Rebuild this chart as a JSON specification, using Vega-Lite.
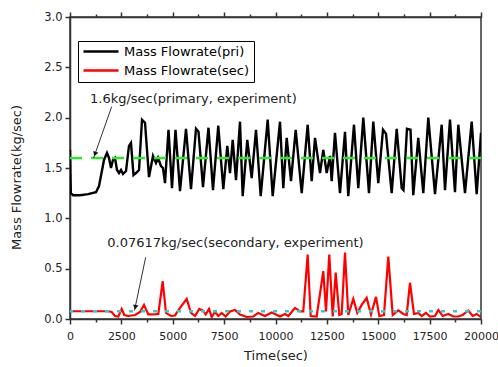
{
"$schema": "https://vega.github.io/schema/vega-lite/v6.json",
"width": 411,
"height": 302,
"autosize": {"type": "none"},
"padding": {"left": 70, "top": 17, "right": 17, "bottom": 48},
"config": {"view": {"stroke": "#333", "strokeWidth": 1.5}, "font": "DejaVu Sans"},
"datasets": {
"pri": [
{"t":0,"v":1.68},{"t":40,"v":1.25},{"t":150,"v":1.23},{"t":490,"v":1.23},{"t":880,"v":1.24},{"t":1265,"v":1.26},{"t":1411,"v":1.32},{"t":1655,"v":1.58},{"t":1800,"v":1.65},{"t":1898,"v":1.60},{"t":1995,"v":1.50},{"t":2092,"v":1.58},{"t":2190,"v":1.60},{"t":2287,"v":1.48},{"t":2384,"v":1.45},{"t":2482,"v":1.48},{"t":2579,"v":1.44},{"t":2725,"v":1.47},{"t":2871,"v":1.72},{"t":2968,"v":1.75},{"t":3090,"v":1.43},{"t":3212,"v":1.45},{"t":3358,"v":1.48},{"t":3504,"v":1.98},{"t":3650,"v":1.95},{"t":3844,"v":1.41},{"t":4039,"v":1.62},{"t":4185,"v":1.55},{"t":4282,"v":1.60},{"t":4428,"v":1.52},{"t":4525,"v":1.50},{"t":4623,"v":1.35},{"t":4793,"v":1.88},{"t":4963,"v":1.30},{"t":5134,"v":1.88},{"t":5353,"v":1.27},{"t":5645,"v":1.89},{"t":5888,"v":1.29},{"t":6131,"v":1.89},{"t":6253,"v":1.86},{"t":6472,"v":1.31},{"t":6739,"v":1.90},{"t":6958,"v":1.28},{"t":7216,"v":1.92},{"t":7460,"v":1.29},{"t":7654,"v":1.72},{"t":7786,"v":1.45},{"t":7917,"v":1.78},{"t":8078,"v":1.38},{"t":8272,"v":1.96},{"t":8403,"v":1.22},{"t":8627,"v":1.78},{"t":8841,"v":1.40},{"t":9051,"v":1.88},{"t":9280,"v":1.22},{"t":9620,"v":1.98},{"t":9863,"v":1.22},{"t":10219,"v":1.96},{"t":10379,"v":1.30},{"t":10545,"v":1.80},{"t":10754,"v":1.37},{"t":10983,"v":1.88},{"t":11275,"v":1.25},{"t":11566,"v":1.93},{"t":11761,"v":1.37},{"t":11922,"v":1.80},{"t":12165,"v":1.45},{"t":12326,"v":1.68},{"t":12491,"v":1.45},{"t":12652,"v":1.62},{"t":12734,"v":1.37},{"t":12895,"v":1.85},{"t":13138,"v":1.25},{"t":13382,"v":1.86},{"t":13542,"v":1.22},{"t":13819,"v":1.93},{"t":14029,"v":1.30},{"t":14272,"v":2.00},{"t":14549,"v":1.25},{"t":14759,"v":1.96},{"t":15002,"v":1.35},{"t":15231,"v":1.88},{"t":15377,"v":1.84},{"t":15654,"v":1.25},{"t":15898,"v":1.89},{"t":16141,"v":1.30},{"t":16228,"v":1.28},{"t":16398,"v":1.89},{"t":16569,"v":1.88},{"t":16705,"v":1.23},{"t":16948,"v":1.80},{"t":17192,"v":1.25},{"t":17435,"v":2.00},{"t":17761,"v":1.24},{"t":18087,"v":1.93},{"t":18248,"v":1.28},{"t":18491,"v":1.98},{"t":18734,"v":1.26},{"t":18895,"v":1.93},{"t":19221,"v":1.25},{"t":19547,"v":1.96},{"t":19790,"v":1.24},{"t":20000,"v":1.85}
],
"sec": [
{"t":0,"v":0.077},{"t":1849,"v":0.077},{"t":2029,"v":0.07},{"t":2190,"v":0.03},{"t":2350,"v":0.025},{"t":2516,"v":0.10},{"t":2642,"v":0.04},{"t":2837,"v":0.03},{"t":3163,"v":0.04},{"t":3406,"v":0.07},{"t":3601,"v":0.14},{"t":3810,"v":0.045},{"t":4053,"v":0.045},{"t":4297,"v":0.05},{"t":4511,"v":0.375},{"t":4671,"v":0.06},{"t":4915,"v":0.03},{"t":5109,"v":0.035},{"t":5353,"v":0.11},{"t":5679,"v":0.20},{"t":5888,"v":0.06},{"t":6083,"v":0.03},{"t":6292,"v":0.10},{"t":6486,"v":0.08},{"t":6603,"v":0.045},{"t":6764,"v":0.10},{"t":6895,"v":0.02},{"t":7056,"v":0.07},{"t":7216,"v":0.03},{"t":7382,"v":0.06},{"t":7576,"v":0.025},{"t":7786,"v":0.075},{"t":8029,"v":0.09},{"t":8272,"v":0.045},{"t":8598,"v":0.02},{"t":8919,"v":0.025},{"t":9163,"v":0.06},{"t":9489,"v":0.03},{"t":9815,"v":0.065},{"t":9975,"v":0.05},{"t":10219,"v":0.025},{"t":10462,"v":0.05},{"t":10622,"v":0.03},{"t":10949,"v":0.11},{"t":11192,"v":0.075},{"t":11352,"v":0.075},{"t":11566,"v":0.64},{"t":11712,"v":0.03},{"t":12004,"v":0.025},{"t":12326,"v":0.475},{"t":12457,"v":0.075},{"t":12617,"v":0.64},{"t":12783,"v":0.025},{"t":12929,"v":0.46},{"t":13104,"v":0.04},{"t":13221,"v":0.05},{"t":13382,"v":0.66},{"t":13542,"v":0.04},{"t":13785,"v":0.20},{"t":13980,"v":0.06},{"t":14194,"v":0.14},{"t":14437,"v":0.21},{"t":14647,"v":0.045},{"t":14890,"v":0.22},{"t":15051,"v":0.03},{"t":15279,"v":0.04},{"t":15489,"v":0.62},{"t":15703,"v":0.04},{"t":15975,"v":0.085},{"t":16219,"v":0.05},{"t":16384,"v":0.04},{"t":16544,"v":0.36},{"t":16739,"v":0.05},{"t":16948,"v":0.06},{"t":17114,"v":0.03},{"t":17324,"v":0.06},{"t":17518,"v":0.025},{"t":17761,"v":0.03},{"t":17922,"v":0.09},{"t":18136,"v":0.03},{"t":18408,"v":0.05},{"t":18651,"v":0.025},{"t":18895,"v":0.025},{"t":19109,"v":0.04},{"t":19381,"v":0.085},{"t":19596,"v":0.03},{"t":19790,"v":0.05},{"t":20000,"v":0.02}
],
"notes": [
{"t":973,"v":2.19,"label":"1.6kg/sec(primary, experiment)"},
{"t":1815,"v":0.756,"label":"0.07617kg/sec(secondary, experiment)"}
],
"arrows": [
{"t":2029,"v":2.11,"t2":1150,"v2":1.60},
{"t":3683,"v":0.613,"t2":3139,"v2":0.084}
]
},
"resolve": {"axis": {"x": "independent"}},
"layer": [
{
"data": {"name": "pri"},
"mark": {"type": "line", "strokeWidth": 2.4, "clip": true},
"encoding": {
"x": {"field": "t", "type": "quantitative",
"scale": {"domain": [0, 20000], "nice": false, "zero": false},
"axis": {"orient": "bottom", "values": [0,1250,2500,3750,5000,6250,7500,8750,10000,11250,12500,13750,15000,16250,17500,18750,20000],
"format": "d", "labelExpr": "datum.value % 2500 === 0 ? datum.label : ''",
"title": "Time(sec)", "grid": false, "domainColor": "#333", "domainWidth": 1.5,
"tickColor": "#333", "tickWidth": 1.5,
"tickSize": {"condition": {"test": "datum.value % 2500 === 0", "value": 5}, "value": 3},
"labelFont": "DejaVu Sans", "labelFontSize": 11, "labelColor": "#222", "labelPadding": 6,
"labelFlush": false, "labelOverlap": false,
"titleFont": "DejaVu Sans", "titleFontSize": 13, "titleFontWeight": "normal", "titleColor": "#222", "titlePadding": 8}},
"y": {"field": "v", "type": "quantitative",
"scale": {"domain": [0, 3], "nice": false},
"axis": {"orient": "left", "values": [0,0.25,0.5,0.75,1,1.25,1.5,1.75,2,2.25,2.5,2.75,3],
"format": ".1f", "labelExpr": "round(datum.value*4) % 2 === 0 ? datum.label : ''",
"title": "Mass Flowrate(kg/sec)", "grid": false, "domainColor": "#333", "domainWidth": 1.5,
"tickColor": "#333", "tickWidth": 1.5,
"tickSize": {"condition": {"test": "round(datum.value*4) % 2 === 0", "value": 5}, "value": 3},
"labelFont": "DejaVu Sans", "labelFontSize": 11.5, "labelColor": "#222", "labelPadding": 3,
"labelFlush": false, "labelOverlap": false,
"titleFont": "DejaVu Sans", "titleFontSize": 13, "titleFontWeight": "normal", "titleColor": "#222", "titlePadding": 20, "titleY": 160}},
"color": {"datum": "Mass Flowrate(pri)", "type": "nominal",
"scale": {"domain": ["Mass Flowrate(pri)", "Mass Flowrate(sec)"], "range": ["#000000", "#ff0000"]},
"legend": {"orient": "none", "legendX": 8, "legendY": 24, "title": null,
"symbolType": "M-1,0H6", "symbolSize": 100, "symbolStrokeWidth": 2.5,
"labelFont": "DejaVu Sans", "labelFontSize": 13, "labelColor": "#000", "labelOffset": 29,
"rowPadding": 5, "padding": 4, "fillColor": "#ffffff", "strokeColor": "#000000", "cornerRadius": 0}}
}
},
{
"data": {"name": "sec"},
"mark": {"type": "line", "strokeWidth": 2.2, "clip": true},
"encoding": {
"x": {"field": "t", "type": "quantitative", "axis": null},
"y": {"field": "v", "type": "quantitative"},
"color": {"datum": "Mass Flowrate(sec)", "type": "nominal"}
}
},
{
"data": {"values": [{"v": 1.6}]},
"mark": {"type": "rule", "color": "#2ee82e", "strokeWidth": 2.5, "strokeDash": [12, 9]},
"encoding": {"y": {"field": "v", "type": "quantitative"}}
},
{
"data": {"values": [{"v": 0.07617}]},
"mark": {"type": "rule", "color": "#33cccc", "strokeWidth": 2.5, "strokeDash": [4, 8]},
"encoding": {"y": {"field": "v", "type": "quantitative"}}
},
{
"data": {"name": "arrows"},
"mark": {"type": "rule", "color": "#333", "strokeWidth": 1},
"encoding": {
"x": {"field": "t", "type": "quantitative", "axis": null},
"y": {"field": "v", "type": "quantitative"},
"x2": {"field": "t2"},
"y2": {"field": "v2"}
}
},
{
"data": {"values": [{"t": 1230, "v": 1.645}]},
"mark": {"type": "point", "shape": "triangle", "filled": true, "color": "#111", "size": 30, "angle": 200, "opacity": 1},
"encoding": {
"x": {"field": "t", "type": "quantitative", "axis": null},
"y": {"field": "v", "type": "quantitative"}
}
},
{
"data": {"values": [{"t": 3187, "v": 0.124}]},
"mark": {"type": "point", "shape": "triangle", "filled": true, "color": "#111", "size": 30, "angle": 192, "opacity": 1},
"encoding": {
"x": {"field": "t", "type": "quantitative", "axis": null},
"y": {"field": "v", "type": "quantitative"}
}
},
{
"data": {"name": "notes"},
"mark": {"type": "text", "align": "left", "baseline": "middle", "font": "DejaVu Sans", "fontSize": 13, "color": "#222"},
"encoding": {
"x": {"field": "t", "type": "quantitative",
"axis": {"orient": "top", "values": [0,1250,2500,3750,5000,6250,7500,8750,10000,11250,12500,13750,15000,16250,17500,18750,20000],
"labels": false, "title": null, "grid": false, "domainColor": "#333", "domainWidth": 1.5,
"tickColor": "#333", "tickWidth": 1.5,
"tickSize": {"condition": {"test": "datum.value % 2500 === 0", "value": 5}, "value": 3}}},
"y": {"field": "v", "type": "quantitative"},
"text": {"field": "label"}
}
}
]
}
